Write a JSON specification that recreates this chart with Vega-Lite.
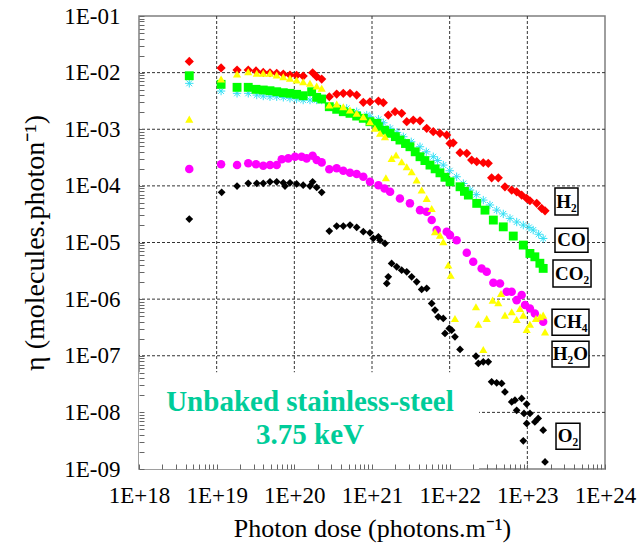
{
  "$schema": "https://vega.github.io/schema/vega-lite/v6.json",
  "width": 466,
  "height": 453,
  "autosize": "none",
  "padding": {"left": 139, "top": 16, "right": 33, "bottom": 84},
  "config": {"font": "Liberation Serif", "view": {"stroke": "#7f7f7f", "strokeWidth": 1.5}},
  "datasets": {
    "vgrid": [{"x": 1e19}, {"x": 1e20}, {"x": 1e21}, {"x": 1e22}, {"x": 1e23}],
    "hgrid": [{"y": 1e-2}, {"y": 1e-3}, {"y": 1e-4}, {"y": 1e-5}, {"y": 1e-6}, {"y": 1e-7}, {"y": 1e-8}],
    "notebox": [{"x": 1e18, "x2": 2.39e22, "y": 1e-9, "y2": 5.13e-8}],
    "note": [
      {"x": 1.59e20, "y": 1.51e-8, "t": "Unbaked stainless-steel"},
      {"x": 1.59e20, "y": 3.95e-9, "t": "3.75 keV"}
    ],
    "boxes": [
      {"t": "H₂", "x": 2.27e23, "x2": 4.49e23, "y": 9.14e-5, "y2": 3.05e-5, "tx": 3.19e23, "ty": 5.28e-5},
      {"t": "CO", "x": 2.27e23, "x2": 6.04e23, "y": 1.79e-5, "y2": 6.76e-6, "tx": 3.70e23, "ty": 1.10e-5},
      {"t": "CO₂", "x": 2.14e23, "x2": 6.61e23, "y": 4.89e-6, "y2": 1.63e-6, "tx": 3.76e23, "ty": 2.82e-6},
      {"t": "CH₄", "x": 2.08e23, "x2": 6.22e23, "y": 6.65e-7, "y2": 2.31e-7, "tx": 3.59e23, "ty": 3.93e-7},
      {"t": "H₂O", "x": 2.08e23, "x2": 6.22e23, "y": 1.81e-7, "y2": 6.30e-8, "tx": 3.59e23, "ty": 1.07e-7},
      {"t": "O₂", "x": 2.34e23, "x2": 4.76e23, "y": 6.44e-9, "y2": 2.24e-9, "tx": 3.34e23, "ty": 3.80e-9}
    ],
    "pts": [
      {"s":"H2","x":4.44e18,"y":1.58e-2},{"s":"H2","x":1.14e19,"y":1.21e-2},{"s":"H2","x":1.83e19,"y":1.11e-2},{"s":"H2","x":2.55e19,"y":1.11e-2},{"s":"H2","x":3.21e19,"y":1.07e-2},{"s":"H2","x":3.98e19,"y":1.01e-2},{"s":"H2","x":4.86e19,"y":9.95e-3},{"s":"H2","x":5.93e19,"y":9.72e-3},{"s":"H2","x":7.21e19,"y":9.45e-3},{"s":"H2","x":8.79e19,"y":9.08e-3},{"s":"H2","x":1.07e20,"y":8.96e-3},{"s":"H2","x":1.30e20,"y":8.71e-3},{"s":"H2","x":1.72e20,"y":9.95e-3},{"s":"H2","x":1.94e20,"y":8.47e-3},{"s":"H2","x":2.25e20,"y":7.71e-3},{"s":"H2","x":2.82e20,"y":3.75e-3},{"s":"H2","x":3.51e20,"y":4.19e-3},{"s":"H2","x":4.27e20,"y":4.31e-3},{"s":"H2","x":5.21e20,"y":4.31e-3},{"s":"H2","x":6.35e20,"y":4.02e-3},{"s":"H2","x":7.73e20,"y":2.99e-3},{"s":"H2","x":9.42e20,"y":3.06e-3},{"s":"H2","x":1.21e21,"y":3.15e-3},{"s":"H2","x":1.40e21,"y":2.94e-3},{"s":"H2","x":1.62e21,"y":1.78e-3},{"s":"H2","x":1.98e21,"y":2.04e-3},{"s":"H2","x":2.41e21,"y":1.91e-3},{"s":"H2","x":2.80e21,"y":1.36e-3},{"s":"H2","x":3.40e21,"y":1.45e-3},{"s":"H2","x":4.15e21,"y":1.41e-3},{"s":"H2","x":5.06e21,"y":1.04e-3},{"s":"H2","x":6.15e21,"y":9.04e-4},{"s":"H2","x":7.50e21,"y":8.47e-4},{"s":"H2","x":9.16e21,"y":7.91e-4},{"s":"H2","x":1.01e22,"y":5.63e-4},{"s":"H2","x":1.11e22,"y":5.77e-4},{"s":"H2","x":1.36e22,"y":3.85e-4},{"s":"H2","x":1.66e22,"y":3.75e-4},{"s":"H2","x":1.92e22,"y":2.86e-4},{"s":"H2","x":2.23e22,"y":2.67e-4},{"s":"H2","x":2.71e22,"y":2.56e-4},{"s":"H2","x":3.14e22,"y":2.50e-4},{"s":"H2","x":3.47e22,"y":1.39e-4},{"s":"H2","x":4.23e22,"y":1.39e-4},{"s":"H2","x":5.15e22,"y":9.64e-5},{"s":"H2","x":6.29e22,"y":8.43e-5},{"s":"H2","x":7.29e22,"y":7.87e-5},{"s":"H2","x":8.45e22,"y":6.88e-5},{"s":"H2","x":9.81e22,"y":6.01e-5},{"s":"H2","x":1.08e23,"y":5.46e-5},{"s":"H2","x":1.32e23,"y":4.91e-5},{"s":"H2","x":1.53e23,"y":4.00e-5},{"s":"H2","x":1.69e23,"y":3.63e-5},
      {"s":"CO","x":4.44e18,"y":6.47e-3},{"s":"CO","x":1.14e19,"y":4.73e-3},{"s":"CO","x":1.83e19,"y":4.31e-3},{"s":"CO","x":2.55e19,"y":4.31e-3},{"s":"CO","x":3.28e19,"y":4.02e-3},{"s":"CO","x":3.98e19,"y":3.86e-3},{"s":"CO","x":4.86e19,"y":3.75e-3},{"s":"CO","x":5.93e19,"y":3.75e-3},{"s":"CO","x":7.21e19,"y":3.66e-3},{"s":"CO","x":8.79e19,"y":3.52e-3},{"s":"CO","x":1.07e20,"y":3.42e-3},{"s":"CO","x":1.30e20,"y":3.28e-3},{"s":"CO","x":1.59e20,"y":3.28e-3},{"s":"CO","x":1.94e20,"y":3.28e-3},{"s":"CO","x":2.25e20,"y":3.28e-3},{"s":"CO","x":2.82e20,"y":2.57e-3},{"s":"CO","x":3.51e20,"y":2.50e-3},{"s":"CO","x":4.72e20,"y":2.34e-3},{"s":"CO","x":6.35e20,"y":2.04e-3},{"s":"CO","x":8.55e20,"y":1.78e-3},{"s":"CO","x":9.42e20,"y":1.66e-3},{"s":"CO","x":1.21e21,"y":1.50e-3},{"s":"CO","x":1.40e21,"y":1.30e-3},{"s":"CO","x":1.71e21,"y":1.04e-3},{"s":"CO","x":2.10e21,"y":8.8e-4},{"s":"CO","x":2.53e21,"y":7.38e-4},{"s":"CO","x":3.20e21,"y":6.0e-4},{"s":"CO","x":4.15e21,"y":4.91e-4},{"s":"CO","x":5.00e21,"y":4.0e-4},{"s":"CO","x":6.15e21,"y":3.27e-4},{"s":"CO","x":7.00e21,"y":2.8e-4},{"s":"CO","x":8.28e21,"y":2.33e-4},{"s":"CO","x":1.0e22,"y":1.85e-4},{"s":"CO","x":1.23e22,"y":1.45e-4},{"s":"CO","x":1.5e22,"y":1.1e-4},{"s":"CO","x":1.83e22,"y":8.43e-5},{"s":"CO","x":2.2e22,"y":7.0e-5},{"s":"CO","x":2.71e22,"y":5.61e-5},{"s":"CO","x":3.3e22,"y":4.6e-5},{"s":"CO","x":4.03e22,"y":3.73e-5},{"s":"CO","x":4.9e22,"y":3.2e-5},{"s":"CO","x":5.98e22,"y":2.67e-5},{"s":"CO","x":7.3e22,"y":2.3e-5},{"s":"CO","x":8.87e22,"y":2.03e-5},{"s":"CO","x":1.05e23,"y":1.85e-5},{"s":"CO","x":1.19e23,"y":1.66e-5},{"s":"CO","x":1.4e23,"y":1.4e-5},{"s":"CO","x":1.60e23,"y":1.18e-5},
      {"s":"CO2","x":4.44e18,"y":8.81e-3},{"s":"CO2","x":1.14e19,"y":6.21e-3},{"s":"CO2","x":1.83e19,"y":5.50e-3},{"s":"CO2","x":2.55e19,"y":5.50e-3},{"s":"CO2","x":3.21e19,"y":5.07e-3},{"s":"CO2","x":3.98e19,"y":4.93e-3},{"s":"CO2","x":4.86e19,"y":4.79e-3},{"s":"CO2","x":5.93e19,"y":4.60e-3},{"s":"CO2","x":7.21e19,"y":4.42e-3},{"s":"CO2","x":8.79e19,"y":4.31e-3},{"s":"CO2","x":1.07e20,"y":4.14e-3},{"s":"CO2","x":1.30e20,"y":3.91e-3},{"s":"CO2","x":1.67e20,"y":4.60e-3},{"s":"CO2","x":1.94e20,"y":3.66e-3},{"s":"CO2","x":2.25e20,"y":3.42e-3},{"s":"CO2","x":2.82e20,"y":2.50e-3},{"s":"CO2","x":3.51e20,"y":2.25e-3},{"s":"CO2","x":4.27e20,"y":2.04e-3},{"s":"CO2","x":5.21e20,"y":1.91e-3},{"s":"CO2","x":6.35e20,"y":1.71e-3},{"s":"CO2","x":7.73e20,"y":1.56e-3},{"s":"CO2","x":9.42e20,"y":1.36e-3},{"s":"CO2","x":1.15e21,"y":1.27e-3},{"s":"CO2","x":1.21e21,"y":1.11e-3},{"s":"CO2","x":1.45e21,"y":9.6e-4},{"s":"CO2","x":1.71e21,"y":8.47e-4},{"s":"CO2","x":2.0e21,"y":7.4e-4},{"s":"CO2","x":2.29e21,"y":6.45e-4},{"s":"CO2","x":2.7e21,"y":5.6e-4},{"s":"CO2","x":3.08e21,"y":4.91e-4},{"s":"CO2","x":3.6e21,"y":4.0e-4},{"s":"CO2","x":4.15e21,"y":3.27e-4},{"s":"CO2","x":4.8e21,"y":2.8e-4},{"s":"CO2","x":5.58e21,"y":2.33e-4},{"s":"CO2","x":6.5e21,"y":2.0e-4},{"s":"CO2","x":7.50e21,"y":1.70e-4},{"s":"CO2","x":8.7e21,"y":1.42e-4},{"s":"CO2","x":1.01e22,"y":1.18e-4},{"s":"CO2","x":1.36e22,"y":9.64e-5},{"s":"CO2","x":1.55e22,"y":8.0e-5},{"s":"CO2","x":1.74e22,"y":6.88e-5},{"s":"CO2","x":2.23e22,"y":4.91e-5},{"s":"CO2","x":2.85e22,"y":3.73e-5},{"s":"CO2","x":3.65e22,"y":2.49e-5},{"s":"CO2","x":4.90e22,"y":1.89e-5},{"s":"CO2","x":6.59e22,"y":1.30e-5},{"s":"CO2","x":8.87e22,"y":9.0e-6},{"s":"CO2","x":1.08e23,"y":6.41e-6},{"s":"CO2","x":1.25e23,"y":5.59e-6},{"s":"CO2","x":1.45e23,"y":4.3e-6},{"s":"CO2","x":1.60e23,"y":3.49e-6},
      {"s":"CH4","x":4.44e18,"y":1.98e-4},{"s":"CH4","x":1.14e19,"y":2.40e-4},{"s":"CH4","x":1.83e19,"y":2.33e-4},{"s":"CH4","x":2.55e19,"y":2.50e-4},{"s":"CH4","x":3.21e19,"y":2.40e-4},{"s":"CH4","x":3.98e19,"y":2.26e-4},{"s":"CH4","x":4.86e19,"y":2.33e-4},{"s":"CH4","x":5.93e19,"y":2.33e-4},{"s":"CH4","x":6.88e19,"y":2.94e-4},{"s":"CH4","x":8.36e19,"y":3.06e-4},{"s":"CH4","x":1.02e20,"y":3.27e-4},{"s":"CH4","x":1.24e20,"y":3.27e-4},{"s":"CH4","x":1.44e20,"y":3.06e-4},{"s":"CH4","x":1.72e20,"y":3.40e-4},{"s":"CH4","x":1.94e20,"y":2.86e-4},{"s":"CH4","x":2.25e20,"y":2.60e-4},{"s":"CH4","x":2.82e20,"y":1.96e-4},{"s":"CH4","x":3.51e20,"y":2.04e-4},{"s":"CH4","x":4.27e20,"y":1.85e-4},{"s":"CH4","x":5.21e20,"y":1.70e-4},{"s":"CH4","x":6.35e20,"y":1.62e-4},{"s":"CH4","x":7.73e20,"y":1.45e-4},{"s":"CH4","x":9.42e20,"y":1.18e-4},{"s":"CH4","x":1.21e21,"y":1.03e-4},{"s":"CH4","x":1.45e21,"y":9.0e-5},{"s":"CH4","x":1.71e21,"y":7.87e-5},{"s":"CH4","x":2.29e21,"y":6.01e-5},{"s":"CH4","x":3.08e21,"y":4.91e-5},{"s":"CH4","x":4.15e21,"y":3.73e-5},{"s":"CH4","x":5.06e21,"y":3.48e-5},{"s":"CH4","x":5.87e21,"y":2.49e-5},{"s":"CH4","x":6.81e21,"y":1.66e-5},{"s":"CH4","x":9.16e21,"y":1.55e-5},{"s":"CH4","x":1.01e22,"y":1.35e-5},{"s":"CH4","x":1.23e22,"y":1.10e-5},{"s":"CH4","x":1.66e22,"y":6.58e-6},{"s":"CH4","x":2.01e22,"y":4.56e-6},{"s":"CH4","x":2.58e22,"y":3.49e-6},{"s":"CH4","x":3.00e22,"y":3.03e-6},{"s":"CH4","x":3.65e22,"y":1.94e-6},{"s":"CH4","x":4.45e22,"y":1.89e-6},{"s":"CH4","x":5.42e22,"y":1.35e-6},{"s":"CH4","x":6.29e22,"y":1.35e-6},{"s":"CH4","x":7.29e22,"y":9.60e-7},{"s":"CH4","x":8.45e22,"y":1.18e-6},{"s":"CH4","x":9.33e22,"y":7.84e-7},{"s":"CH4","x":1.08e23,"y":6.85e-7},{"s":"CH4","x":1.25e23,"y":5.59e-7},{"s":"CH4","x":1.60e23,"y":3.97e-7},
      {"s":"H2O","x":4.44e18,"y":1.51e-3},{"s":"H2O","x":1.14e19,"y":7.71e-3},{"s":"H2O","x":1.83e19,"y":9.45e-3},{"s":"H2O","x":2.55e19,"y":1.04e-2},{"s":"H2O","x":3.28e19,"y":9.72e-3},{"s":"H2O","x":3.98e19,"y":9.72e-3},{"s":"H2O","x":4.86e19,"y":9.72e-3},{"s":"H2O","x":5.93e19,"y":9.08e-3},{"s":"H2O","x":7.21e19,"y":8.47e-3},{"s":"H2O","x":8.79e19,"y":7.93e-3},{"s":"H2O","x":1.07e20,"y":7.40e-3},{"s":"H2O","x":1.30e20,"y":6.90e-3},{"s":"H2O","x":1.59e20,"y":6.47e-3},{"s":"H2O","x":1.94e20,"y":5.80e-3},{"s":"H2O","x":2.25e20,"y":5.28e-3},{"s":"H2O","x":2.82e20,"y":2.68e-3},{"s":"H2O","x":3.51e20,"y":2.79e-3},{"s":"H2O","x":4.27e20,"y":2.50e-3},{"s":"H2O","x":5.21e20,"y":2.18e-3},{"s":"H2O","x":6.35e20,"y":1.91e-3},{"s":"H2O","x":7.73e20,"y":1.66e-3},{"s":"H2O","x":9.42e20,"y":1.36e-3},{"s":"H2O","x":1.09e21,"y":1.04e-3},{"s":"H2O","x":1.27e21,"y":8.47e-4},{"s":"H2O","x":1.47e21,"y":7.38e-4},{"s":"H2O","x":1.51e21,"y":1.39e-4},{"s":"H2O","x":1.79e21,"y":3.06e-4},{"s":"H2O","x":2.04e21,"y":3.50e-4},{"s":"H2O","x":2.41e21,"y":2.67e-4},{"s":"H2O","x":2.80e21,"y":2.17e-4},{"s":"H2O","x":3.24e21,"y":1.77e-4},{"s":"H2O","x":3.76e21,"y":1.27e-4},{"s":"H2O","x":4.36e21,"y":8.43e-5},{"s":"H2O","x":5.06e21,"y":6.01e-5},{"s":"H2O","x":5.87e21,"y":4.00e-5},{"s":"H2O","x":6.47e21,"y":1.55e-5},{"s":"H2O","x":7.50e21,"y":1.35e-5},{"s":"H2O","x":8.28e21,"y":1.03e-5},{"s":"H2O","x":9.60e21,"y":3.99e-6},{"s":"H2O","x":1.03e22,"y":2.65e-6},{"s":"H2O","x":1.17e22,"y":4.56e-7},{"s":"H2O","x":2.18e22,"y":7.31e-7},{"s":"H2O","x":2.34e22,"y":3.61e-7},{"s":"H2O","x":2.71e22,"y":1.29e-7},{"s":"H2O","x":3.00e22,"y":4.56e-7},{"s":"H2O","x":3.58e22,"y":9.60e-7},{"s":"H2O","x":4.23e22,"y":8.61e-7},{"s":"H2O","x":4.58e22,"y":1.26e-6},{"s":"H2O","x":5.15e22,"y":5.22e-7},{"s":"H2O","x":6.29e22,"y":5.97e-7},{"s":"H2O","x":7.29e22,"y":4.38e-7},{"s":"H2O","x":8.04e22,"y":6.85e-7},{"s":"H2O","x":8.87e22,"y":5.22e-7},{"s":"H2O","x":9.81e22,"y":2.92e-7},{"s":"H2O","x":1.08e23,"y":3.61e-7},{"s":"H2O","x":1.29e23,"y":4.56e-7},{"s":"H2O","x":1.46e23,"y":4.87e-7},{"s":"H2O","x":1.60e23,"y":5.22e-7},{"s":"H2O","x":1.69e23,"y":2.64e-7},
      {"s":"O2","x":4.44e18,"y":2.59e-5},{"s":"O2","x":1.16e19,"y":7.68e-5},{"s":"O2","x":1.83e19,"y":9.91e-5},{"s":"O2","x":2.55e19,"y":1.11e-4},{"s":"O2","x":3.28e19,"y":1.11e-4},{"s":"O2","x":3.98e19,"y":1.11e-4},{"s":"O2","x":4.86e19,"y":1.18e-4},{"s":"O2","x":5.93e19,"y":1.18e-4},{"s":"O2","x":7.21e19,"y":1.13e-4},{"s":"O2","x":7.58e19,"y":9.91e-5},{"s":"O2","x":8.79e19,"y":1.13e-4},{"s":"O2","x":1.07e20,"y":1.08e-4},{"s":"O2","x":1.30e20,"y":1.03e-4},{"s":"O2","x":1.59e20,"y":9.91e-5},{"s":"O2","x":1.72e20,"y":1.18e-4},{"s":"O2","x":1.94e20,"y":9.40e-5},{"s":"O2","x":2.25e20,"y":7.68e-5},{"s":"O2","x":2.82e20,"y":1.59e-5},{"s":"O2","x":3.51e20,"y":1.95e-5},{"s":"O2","x":4.27e20,"y":1.95e-5},{"s":"O2","x":5.21e20,"y":2.03e-5},{"s":"O2","x":6.35e20,"y":1.85e-5},{"s":"O2","x":7.73e20,"y":1.55e-5},{"s":"O2","x":9.42e20,"y":1.48e-5},{"s":"O2","x":1.04e21,"y":1.18e-5},{"s":"O2","x":1.21e21,"y":1.26e-5},{"s":"O2","x":1.27e21,"y":1.10e-5},{"s":"O2","x":1.47e21,"y":9.63e-6},{"s":"O2","x":1.55e21,"y":1.89e-6},{"s":"O2","x":1.62e21,"y":2.48e-6},{"s":"O2","x":1.79e21,"y":4.27e-6},{"s":"O2","x":2.08e21,"y":3.72e-6},{"s":"O2","x":2.41e21,"y":3.25e-6},{"s":"O2","x":2.80e21,"y":3.03e-6},{"s":"O2","x":3.24e21,"y":2.48e-6},{"s":"O2","x":3.76e21,"y":2.02e-6},{"s":"O2","x":4.36e21,"y":1.48e-6},{"s":"O2","x":5.06e21,"y":1.55e-6},{"s":"O2","x":5.87e21,"y":8.40e-7},{"s":"O2","x":6.47e21,"y":6.40e-7},{"s":"O2","x":7.13e21,"y":4.87e-7},{"s":"O2","x":8.28e21,"y":4.56e-7},{"s":"O2","x":8.71e21,"y":2.48e-7},{"s":"O2","x":9.89e21,"y":3.03e-7},{"s":"O2","x":1.06e22,"y":2.83e-7},{"s":"O2","x":1.17e22,"y":2.16e-7},{"s":"O2","x":1.36e22,"y":1.29e-7},{"s":"O2","x":2.18e22,"y":9.84e-8},{"s":"O2","x":2.34e22,"y":7.31e-8},{"s":"O2","x":2.71e22,"y":7.80e-8},{"s":"O2","x":3.14e22,"y":7.80e-8},{"s":"O2","x":3.47e22,"y":3.46e-8},{"s":"O2","x":4.03e22,"y":3.32e-8},{"s":"O2","x":4.67e22,"y":3.24e-8},{"s":"O2","x":5.15e22,"y":2.30e-8},{"s":"O2","x":6.29e22,"y":1.53e-8},{"s":"O2","x":6.93e22,"y":1.64e-8},{"s":"O2","x":7.29e22,"y":1.09e-8},{"s":"O2","x":8.45e22,"y":1.76e-8},{"s":"O2","x":9.06e22,"y":9.56e-9},{"s":"O2","x":9.81e22,"y":1.40e-8},{"s":"O2","x":9.81e22,"y":6.37e-9},{"s":"O2","x":1.08e23,"y":9.56e-9},{"s":"O2","x":1.25e23,"y":6.79e-9},{"s":"O2","x":1.38e23,"y":7.80e-9},{"s":"O2","x":1.60e23,"y":4.85e-9},{"s":"O2","x":8.87e22,"y":3.14e-9},{"s":"O2","x":1.69e23,"y":1.33e-9}
    ]
  },
  "layer": [
    {
      "data": {"name": "vgrid"},
      "mark": {"type": "rule", "color": "#333333", "strokeWidth": 1, "strokeDash": [3, 2]},
      "encoding": {
        "x": {
          "field": "x", "type": "quantitative",
          "scale": {"type": "log", "domain": [1e18, 1e24], "nice": false},
          "axis": {
            "values": [1e18,2e18,3e18,4e18,5e18,6e18,7e18,8e18,9e18,1e19,2e19,3e19,4e19,5e19,6e19,7e19,8e19,9e19,1e20,2e20,3e20,4e20,5e20,6e20,7e20,8e20,9e20,1e21,2e21,3e21,4e21,5e21,6e21,7e21,8e21,9e21,1e22,2e22,3e22,4e22,5e22,6e22,7e22,8e22,9e22,1e23,2e23,3e23,4e23,5e23,6e23,7e23,8e23,9e23,1e24],
            "labelExpr": "abs(log(datum.value)/LN10 - round(log(datum.value)/LN10)) < 0.01 ? '1E+' + round(log(datum.value)/LN10) : ''",
            "grid": false, "domain": false, "zindex": 1,
            "tickSize": -5, "tickColor": "#666666", "tickWidth": 1,
            "labelPadding": 20, "labelFontSize": 23, "labelColor": "#000000",
            "labelFlush": false, "labelOverlap": false, "labelBound": false,
            "title": "Photon dose (photons.m⁻¹)", "titleFontSize": 26, "titleFontWeight": "normal",
            "titleColor": "#000000", "titlePadding": 8
          }
        }
      }
    },
    {
      "data": {"name": "hgrid"},
      "mark": {"type": "rule", "color": "#333333", "strokeWidth": 1, "strokeDash": [3, 2]},
      "encoding": {
        "y": {
          "field": "y", "type": "quantitative",
          "scale": {"type": "log", "domain": [1e-9, 1e-1], "nice": false},
          "axis": {
            "values": [1e-9,2e-9,3e-9,4e-9,5e-9,6e-9,7e-9,8e-9,9e-9,1e-8,2e-8,3e-8,4e-8,5e-8,6e-8,7e-8,8e-8,9e-8,1e-7,2e-7,3e-7,4e-7,5e-7,6e-7,7e-7,8e-7,9e-7,1e-6,2e-6,3e-6,4e-6,5e-6,6e-6,7e-6,8e-6,9e-6,1e-5,2e-5,3e-5,4e-5,5e-5,6e-5,7e-5,8e-5,9e-5,1e-4,2e-4,3e-4,4e-4,5e-4,6e-4,7e-4,8e-4,9e-4,1e-3,2e-3,3e-3,4e-3,5e-3,6e-3,7e-3,8e-3,9e-3,1e-2,2e-2,3e-2,4e-2,5e-2,6e-2,7e-2,8e-2,9e-2,1e-1],
            "labelExpr": "abs(log(datum.value)/LN10 - round(log(datum.value)/LN10)) < 0.01 ? '1E-0' + (-round(log(datum.value)/LN10)) : ''",
            "grid": false, "domain": false, "zindex": 1,
            "tickSize": -5, "tickColor": "#666666", "tickWidth": 1,
            "labelPadding": 24, "labelFontSize": 23, "labelColor": "#000000",
            "labelFlush": false, "labelOverlap": false, "labelBound": false,
            "title": "η (molecules.photon⁻¹)", "titleFontSize": 28, "titleFontWeight": "normal",
            "titleColor": "#000000", "titlePadding": 14
          }
        }
      }
    },
    {
      "data": {"name": "notebox"},
      "mark": {"type": "rect", "fill": "white"},
      "encoding": {
        "x": {"field": "x", "type": "quantitative"},
        "x2": {"field": "x2"},
        "y": {"field": "y", "type": "quantitative"},
        "y2": {"field": "y2"}
      }
    },
    {
      "data": {"name": "pts"},
      "transform": [{"filter": "datum.s === 'CO'"}],
      "mark": {"type": "point", "filled": false, "stroke": "#33E0F5", "strokeWidth": 1, "size": 70, "opacity": 1,
               "shape": "M-1,0L1,0M0,-1L0,1M-0.7,-0.7L0.7,0.7M-0.7,0.7L0.7,-0.7"},
      "encoding": {
        "x": {"field": "x", "type": "quantitative"},
        "y": {"field": "y", "type": "quantitative"}
      }
    },
    {
      "data": {"name": "pts"},
      "transform": [{"filter": "datum.s !== 'CO'"}],
      "mark": {"type": "point", "filled": true, "opacity": 1},
      "encoding": {
        "x": {"field": "x", "type": "quantitative"},
        "y": {"field": "y", "type": "quantitative"},
        "shape": {"field": "s", "type": "nominal", "legend": null,
                  "scale": {"domain": ["H2", "CO2", "CH4", "H2O", "O2"], "range": ["diamond", "square", "circle", "triangle-up", "diamond"]}},
        "color": {"field": "s", "type": "nominal", "legend": null,
                  "scale": {"domain": ["H2", "CO2", "CH4", "H2O", "O2"], "range": ["#FF0000", "#00FF00", "#FF00FF", "#FFFF00", "#000000"]}},
        "size": {"field": "s", "type": "nominal", "legend": null,
                 "scale": {"domain": ["H2", "CO2", "CH4", "H2O", "O2"], "range": [85, 60, 60, 75, 75]}}
      }
    },
    {
      "data": {"name": "boxes"},
      "mark": {"type": "rect", "fill": "white", "stroke": "#000000", "strokeWidth": 1.5},
      "encoding": {
        "x": {"field": "x", "type": "quantitative"},
        "x2": {"field": "x2"},
        "y": {"field": "y", "type": "quantitative"},
        "y2": {"field": "y2"}
      }
    },
    {
      "data": {"name": "boxes"},
      "mark": {"type": "text", "fontSize": 19, "fontWeight": "bold", "color": "#000000", "align": "center", "baseline": "middle"},
      "encoding": {
        "x": {"field": "tx", "type": "quantitative"},
        "y": {"field": "ty", "type": "quantitative"},
        "text": {"field": "t"}
      }
    },
    {
      "data": {"name": "note"},
      "mark": {"type": "text", "fontSize": 29, "fontWeight": "bold", "color": "#00CC99", "align": "center", "baseline": "middle"},
      "encoding": {
        "x": {"field": "x", "type": "quantitative"},
        "y": {"field": "y", "type": "quantitative"},
        "text": {"field": "t"}
      }
    }
  ]
}
